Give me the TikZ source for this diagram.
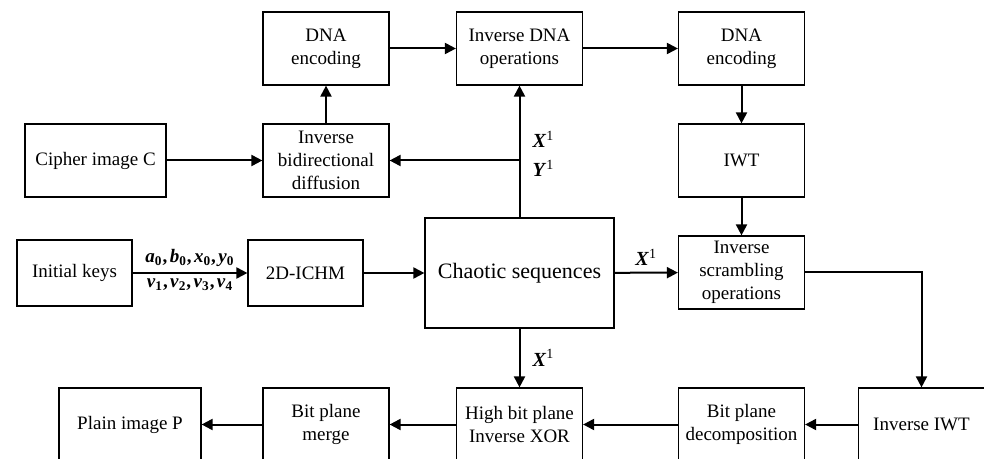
\documentclass[tikz,border=0pt]{standalone}
\usepackage{fontspec}
\setmainfont{Liberation Serif}
\usetikzlibrary{arrows.meta,positioning}

\newcommand{\ksym}[2]{\textit{#1}\textsubscript{#2}}
\newcommand{\ssym}[1]{\textit{#1}\textsuperscript{\mdseries\upshape 1}}
\newcommand{\kc}{,\hspace{1.2pt}}

\begin{document}
\begin{tikzpicture}[x=0.5pt,y=-0.5pt,>={Triangle[length=5.5pt,width=5.5pt]},line width=1pt,node distance=56pt,
	box/.style={draw,line width=0.6pt,minimum width=63pt,minimum height=36.5pt,align=center,inner sep=1pt,
		font=\fontsize{9.5}{11.5}\selectfont},
	lbl/.style={font=\fontsize{10}{12}\selectfont\bfseries,inner sep=1pt},
	keylbl/.style={font=\fontsize{9.5}{11}\selectfont\bfseries,inner sep=2.5pt}]

\useasboundingbox (0,0) rectangle (984,459);

% upper part
\node[box]   (dnaL)   at (326,48.5)   {DNA\\encoding};
 \node[box]  (ibd)    [below of=dnaL] {Inverse\\bidirectional\\diffusion};
\node[box,minimum width=70.5pt] (cipher) at (95.5,160.5) {Cipher image C};
\node[box]   (idna)   at (519.5,48.5) {Inverse DNA\\operations};
\node[box]   (dnaR)   at (741.5,48.5) {DNA\\encoding};
 \node[box]  (iwt)    [below of=dnaR] {IWT};
 \node[box]  (iscr)   [below of=iwt]  {Inverse\\scrambling\\operations};

% middle
\node[box,minimum width=57.5pt,minimum height=33pt] (keys) at (74.5,273) {Initial keys};
\node[box,minimum width=57.5pt,minimum height=33pt] (ichm) at (305.5,273) {2D-ICHM};
\node[box,minimum width=94.5pt,minimum height=55pt,font=\fontsize{11}{13}\selectfont] (chaos) at (519.5,273) {Chaotic sequences};

% lower row
\node[box,minimum width=71pt] (plain) at (130,424.5)   {Plain image P};
\node[box]   (bpm)    at (326,424.5)   {Bit plane\\merge};
\node[box]   (hbp)    at (519.5,424.5) {High bit plane\\Inverse XOR};
\node[box]   (bpd)    at (741.5,424.5) {Bit plane\\decomposition};
\node[box]   (iiwt)   at (921.5,424.5) {Inverse IWT};

\coordinate (br) at (chaos.north |- ibd.east);

\path[->] (cipher) edge (ibd)
		(ibd)  edge (dnaL)
		(dnaL) edge (idna)
		(idna) edge (dnaR)
		(dnaR) edge (iwt)
		(iwt)  edge (iscr)

	(keys) edge node[keylbl,above]{\ksym{a}{0}\kc\ksym{b}{0}\kc\ksym{x}{0}\kc\ksym{y}{0}}
	            node[keylbl,below]{\ksym{v}{1}\kc\ksym{v}{2}\kc\ksym{v}{3}\kc\ksym{v}{4}} (ichm)
	(ichm) edge (chaos)
	(chaos) edge node[lbl,right,pos=0.59,xshift=5pt]{\ssym{X}}
	             node[lbl,right,pos=0.37,xshift=5pt]{\ssym{Y}} (idna)
	(chaos) edge node[lbl,above,yshift=2pt]{\ssym{X}} (iscr)
	(chaos) edge node[lbl,right,xshift=5pt]{\ssym{X}} (hbp)

	(iiwt) edge (bpd)
	(bpd)  edge (hbp)
	(hbp)  edge (bpm)
	(bpm)  edge (plain);

\draw[->] (br) -- (ibd.east);
\draw[->] (iscr.east) -| (iiwt.north);

\end{tikzpicture}
\end{document}
